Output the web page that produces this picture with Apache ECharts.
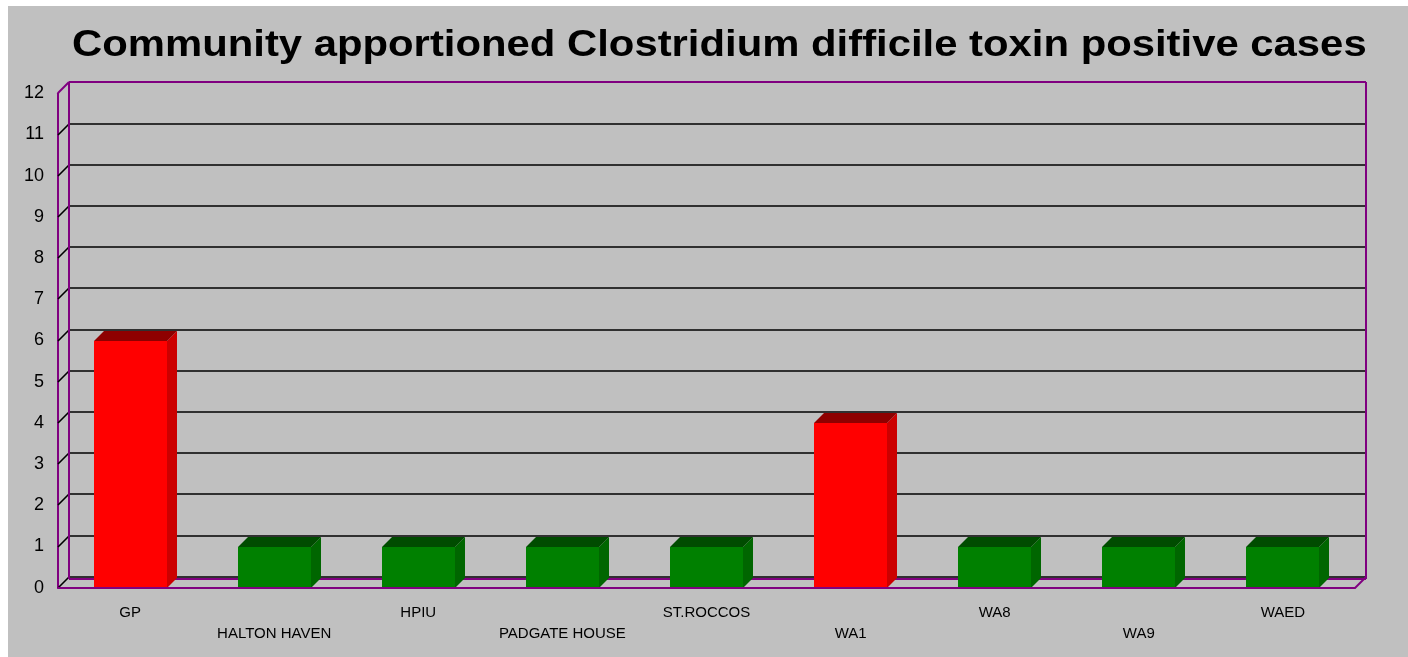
<!DOCTYPE html>
<html>
<head>
<meta charset="utf-8">
<script src="https://cdn.jsdelivr.net/npm/echarts@6/dist/echarts.min.js"></script>
<style>
  html, body { margin: 0; padding: 0; background: #ffffff; }
  #chart { position: absolute; left: 8px; top: 6px; width: 1400px; height: 651px; }
</style>
</head>
<body>
<div id="chart"></div>
<script>
// Cases per location
const categories = ['GP', 'HALTON HAVEN', 'HPIU', 'PADGATE HOUSE', 'ST.ROCCOS', 'WA1', 'WA8', 'WA9', 'WAED'];
const cases = [6, 1, 1, 1, 1, 4, 1, 1, 1];
const yTicks = [0, 1, 2, 3, 4, 5, 6, 7, 8, 9, 10, 11, 12];

const FONT = '"Liberation Sans", Arial, sans-serif';
const WALL_DEPTH = 11;   // offset of the back wall (px)
const BAR_DEPTH = 10;    // depth of each column (px)
const BAR_RATIO = 0.507; // column width as share of the category band
const WALL_EDGE = '#800080';
const GRID_LINE = '#000000';
const HIGH = { front: '#FF0000', side: '#CC0000', top: '#8E0000' };
const NORMAL = { front: '#008000', side: '#006600', top: '#004C00' };

const chart = echarts.init(document.getElementById('chart'));

// Back wall, left wall and floor drawn for every y tick
function renderFrame(params, api) {
  const v = api.value(0);
  const cs = params.coordSys;
  const x0 = cs.x, x1 = cs.x + cs.width;
  const y = Math.round(api.coord([0, v])[1]);
  const yBottom = Math.round(api.coord([0, yTicks[0]])[1]);
  const d = WALL_DEPTH;
  const first = v === yTicks[0];
  const last = v === yTicks[yTicks.length - 1];
  const gridStyle = { stroke: last ? WALL_EDGE : GRID_LINE, lineWidth: last ? 2 : 1.6, fill: null };
  const edgeStyle = { stroke: WALL_EDGE, lineWidth: 2, fill: null };
  const children = [
    { type: 'line', shape: { x1: x0, y1: y, x2: x0 + d, y2: y - d }, style: gridStyle },
    { type: 'line', shape: { x1: x0 + d, y1: y - d, x2: x1 + d, y2: y - d }, style: gridStyle }
  ];
  if (first) {
    // floor: back edge just under the zero grid line, and right-hand diagonal
    children.unshift({ type: 'line', shape: { x1: x0 + d, y1: y - d + 2, x2: x1 + d, y2: y - d + 2 }, style: edgeStyle });
    children.push({ type: 'line', shape: { x1: x1, y1: y, x2: x1 + d, y2: y - d }, style: edgeStyle });
  }
  if (last) {
    children.push({ type: 'line', shape: { x1: x0 + d, y1: y - d, x2: x0 + d, y2: yBottom - d + 2 }, style: edgeStyle });
    children.push({ type: 'line', shape: { x1: x1 + d, y1: y - d, x2: x1 + d, y2: yBottom - d + 2 }, style: edgeStyle });
  }
  return { type: 'group', children: children };
}

// Columns with front, side and top faces
function renderBar(params, api) {
  const idx = api.value(0);
  const val = api.value(1);
  const top = api.coord([idx, val]);
  const base = api.coord([idx, 0]);
  const w = api.size([1, 0])[0] * BAR_RATIO;
  const xl = Math.round(top[0] - w / 2);
  const xr = Math.round(top[0] + w / 2);
  const yt = Math.round(top[1]);
  const yb = Math.round(base[1]);
  const d = BAR_DEPTH;
  const c = val > 2 ? HIGH : NORMAL;
  return {
    type: 'group',
    children: [
      { type: 'polygon', shape: { points: [[xr, yt], [xr + d, yt - d], [xr + d, yb - d], [xr, yb]] }, style: { fill: c.side } },
      { type: 'polygon', shape: { points: [[xl, yt], [xl + d, yt - d], [xr + d, yt - d], [xr, yt]] }, style: { fill: c.top } },
      { type: 'rect', shape: { x: xl, y: yt, width: xr - xl, height: yb - yt }, style: { fill: c.front } }
    ]
  };
}

const option = {
  backgroundColor: '#C0C0C0',
  animation: false,
  graphic: [{
    type: 'text',
    x: 64,
    y: 40.5,
    scaleX: 1.162,
    style: {
      text: 'Community apportioned Clostridium difficile toxin positive cases',
      x: 0, y: 0,
      align: 'left',
      verticalAlign: 'middle',
      font: 'bold 36px ' + FONT,
      fill: '#000000'
    }
  }],
  grid: { left: 50, right: 53, top: 87.3, bottom: 69.3, containLabel: false },
  xAxis: {
    type: 'category',
    data: categories,
    z: 5,
    axisLine: { show: true, lineStyle: { color: WALL_EDGE, width: 2 } },
    axisTick: { show: false },
    splitLine: { show: false },
    axisLabel: {
      interval: 0,
      margin: 15,
      fontSize: 15,
      lineHeight: 21,
      fontFamily: FONT,
      color: '#000000',
      formatter: (v, i) => (i % 2 ? '\n' + v : v)
    }
  },
  yAxis: {
    type: 'value',
    min: 0,
    max: 12,
    interval: 1,
    axisLine: { show: true, lineStyle: { color: WALL_EDGE, width: 2 } },
    axisTick: { show: false },
    splitLine: { show: false },
    axisLabel: { margin: 14, fontSize: 18, fontFamily: FONT, color: '#000000' }
  },
  series: [
    {
      type: 'custom',
      renderItem: renderFrame,
      data: yTicks.map(v => [v]),
      encode: { y: 0 },
      z: 1,
      silent: true
    },
    {
      type: 'custom',
      renderItem: renderBar,
      data: cases.map((v, i) => [i, v]),
      encode: { x: 0, y: 1 },
      z: 3
    }
  ]
};

chart.setOption(option);
</script>
</body>
</html>
